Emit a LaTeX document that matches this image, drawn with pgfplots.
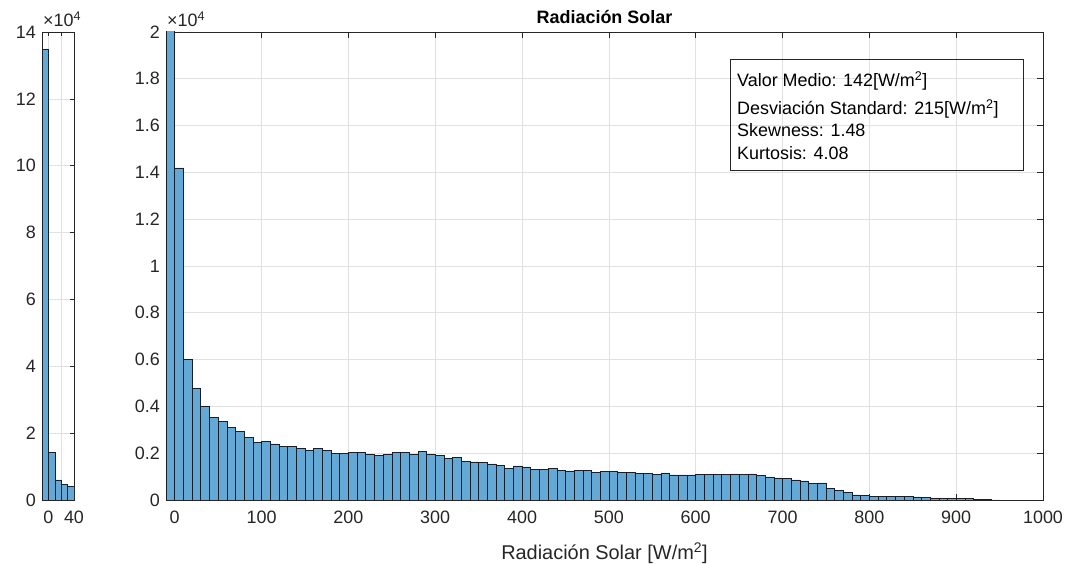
\documentclass[border=0pt]{standalone}
\usepackage{fontspec}
\setmainfont{Liberation Sans}
\usepackage{pgfplots}
\pgfplotsset{compat=1.18}
\definecolor{barfill}{RGB}{100,168,214}
\definecolor{axgray}{RGB}{38,38,38}
\definecolor{gridc}{RGB}{225,225,225}
\definecolor{edgec}{RGB}{25,30,40}
\pgfplotsset{
  mystyle/.style={scale only axis, axis line style={axgray, line width=0.6bp},
    tick style={axgray, line width=0.6bp}, tick align=inside,
    xtick pos=both, ytick pos=both, grid=major,
    major grid style={gridc, line width=0.6bp},
    ticklabel style={font=\fontsize{18}{21}\selectfont, text=axgray},
    xticklabel style={yshift=-5bp},
    scaled ticks=false, clip=true}
}
\begin{document}
\fontsize{18}{21}\selectfont
\begin{tikzpicture}[x=1bp,y=1bp]
\useasboundingbox (0,0) rectangle (1070,564);
% left small axis
\begin{axis}[mystyle, at={(42bp,64bp)}, anchor=south west, width=32bp, height=468bp,
  xmin=-10, xmax=40, ymin=0, ymax=140000,
  xtick={0,20,40}, xticklabels={0,,40},
  ytick={0,20000,40000,60000,80000,100000,120000,140000},
  yticklabels={0,2,4,6,8,10,12,14}, major tick length=4bp]
\addplot[ybar interval, fill=barfill, draw=edgec, line width=0.5bp] table {
x y
-10 134800
0 14190
10 6000
20 4780
30 4020
40 0
};
\end{axis}
% main axis
\begin{axis}[mystyle, at={(166bp,64bp)}, anchor=south west, width=877bp, height=468bp,
  xmin=-10, xmax=1000, ymin=0, ymax=20000,
  xtick={0,100,200,300,400,500,600,700,800,900,1000},
  xticklabels={0,100,200,300,400,500,600,700,800,900,1000},
  ytick={0,2000,4000,6000,8000,10000,12000,14000,16000,18000,20000},
  yticklabels={0,0.2,0.4,0.6,0.8,1,1.2,1.4,1.6,1.8,2}, major tick length=6bp]
\addplot[ybar interval, fill=barfill, draw=edgec, line width=0.5bp] table {
x y
-10 134800
0 14190
10 6000
20 4780
30 4020
40 3520
50 3370
60 3110
70 2940
80 2680
90 2470
100 2510
110 2400
120 2280
130 2300
140 2190
150 2130
160 2190
170 2130
180 2000
190 2000
200 2040
210 2040
220 1960
230 1920
240 1960
250 2040
260 2020
270 1960
280 2080
290 1960
300 1900
310 1790
320 1810
330 1660
340 1630
350 1620
360 1540
370 1480
380 1360
390 1460
400 1420
410 1310
420 1310
430 1360
440 1270
450 1240
460 1270
470 1250
480 1180
490 1230
500 1230
510 1180
520 1180
530 1150
540 1150
550 1090
560 1160
570 1070
580 1070
590 1070
600 1090
610 1080
620 1110
630 1080
640 1120
650 1090
660 1120
670 1050
680 990
690 950
700 930
710 860
720 820
730 720
740 730
750 500
760 420
770 340
780 220
790 200
800 140
810 150
820 160
830 140
840 140
850 130
860 110
870 90
880 80
890 80
900 70
910 60
920 40
930 15
940 10
950 0
};
\end{axis}
% exponent labels
\node[anchor=base west, inner sep=0, text=axgray] at (43,537) {×10\textsuperscript{4}};
\node[anchor=base west, inner sep=0, text=axgray] at (167,537) {×10\textsuperscript{4}};
% title and label
\node[anchor=base, inner sep=0, font=\bfseries\fontsize{18}{21}\selectfont] at (604.5,540) {Radiación Solar};
\node[anchor=base, inner sep=0, text=axgray, font=\fontsize{20}{24}\selectfont] at (604.5,4) {Radiación Solar [W/m\textsuperscript{2}]};
% stats box
\draw[axgray, line width=0.8bp] (730,394) rectangle (1023,505);
\node[anchor=base west, inner sep=0] at (737,477) {Valor Medio: 142[W/m\textsuperscript{2}]};
\node[anchor=base west, inner sep=0] at (737,449) {Desviación Standard: 215[W/m\textsuperscript{2}]};
\node[anchor=base west, inner sep=0] at (737,427) {Skewness: 1.48};
\node[anchor=base west, inner sep=0] at (737,404) {Kurtosis: 4.08};
\end{tikzpicture}
\end{document}
